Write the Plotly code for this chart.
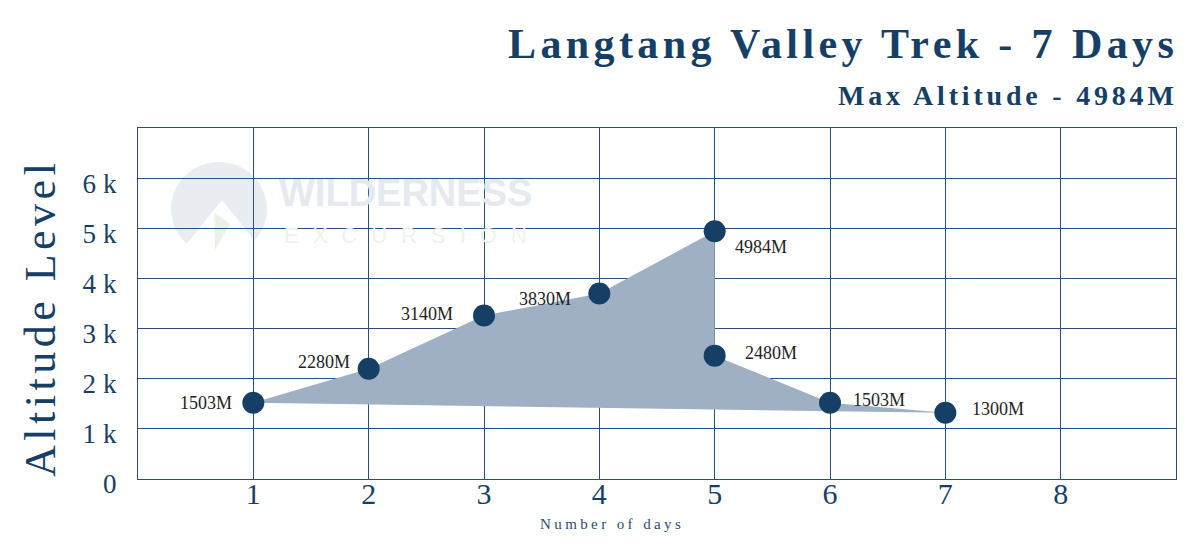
import plotly.graph_objects as go

# ---------------- data ----------------
days = [1, 2, 3, 4, 5, 5, 6, 7]
altitude_plot = [1520, 2200, 3260, 3700, 4940, 2460, 1520, 1320]
altitude_labels = ["1503M", "2280M", "3140M", "3830M", "4984M", "2480M", "1503M", "1300M"]
y_tick_vals = [0, 1000, 2000, 3000, 4000, 5000, 6000]
y_tick_text = ["0", "1k", "2k", "3k", "4k", "5k", "6k"]
x_tick_vals = [1, 2, 3, 4, 5, 6, 7, 8]
x_tick_text = ["1", "2", "3", "4", "5", "6", "7", "8"]

title_text = "Langtang Valley Trek - 7 Days"
subtitle_text = "Max Altitude - 4984M"
y_title = "Altitude Level"
x_title = "Number of days"

# label placement (pixel offsets from each point)
label_dx = [-47, -45, -57, -54, 46, 56, 49, 53]
label_dy = [0, 7, 2, -6, -16, 3, 3, 4]

NAVY = "#163f66"
GRID = "#2a4f78"
SERIF = "Liberation Serif"

# page has an 8px body margin: draw the figure 8px smaller so it ends at the window edge
OFF = 8
W, H = 1200 - OFF, 556 - OFF
# plot area in window pixels
L, R, T, B = 138, 1176, 128, 479


def px(xp):
    return (xp - L) / (R - L)


def py(yp):
    return (B - yp) / (B - T)


fig = go.Figure()

# watermark (behind everything)
fig.add_shape(type="circle", xref="paper", yref="paper", layer="below",
              x0=px(171), x1=px(267), y0=py(256), y1=py(162),
              fillcolor="#e9edf1", line=dict(width=0))
fig.add_shape(type="path", xref="paper", yref="paper", layer="below",
              path="M %f %f L %f %f L %f %f Z" % (px(222), py(200), px(172), py(262), px(272), py(262)),
              fillcolor="white", line=dict(width=0))
fig.add_shape(type="path", xref="paper", yref="paper", layer="below",
              path="M %f %f L %f %f L %f %f Z" % (px(214), py(212), px(230), py(224), px(215), py(250)),
              fillcolor="#eaf2e6", line=dict(width=0))
fig.add_annotation(xref="paper", yref="paper", x=px(405), y=py(193),
                   xanchor="center", yanchor="middle",
                   text="<b>WILDERNESS</b>", showarrow=False,
                   font=dict(family="Liberation Sans", size=38, color="#e6eaef"))
fig.add_annotation(xref="paper", yref="paper", x=px(412), y=py(235),
                   xanchor="center", yanchor="middle",
                   text='<span style="letter-spacing:14px">EXCURSION</span>', showarrow=False,
                   font=dict(family="Liberation Sans", size=22, color="#eef3ec"))

# filled area polygon
fig.add_trace(go.Scatter(
    x=days, y=altitude_plot, mode="lines", fill="toself",
    fillcolor="#9fb0c4", line=dict(width=0, color="#9fb0c4"),
    hoverinfo="skip", showlegend=False,
))
# markers
fig.add_trace(go.Scatter(
    x=days, y=altitude_plot, mode="markers",
    marker=dict(size=22, color=NAVY), showlegend=False,
))

for d, a, lab, dx, dy in zip(days, altitude_plot, altitude_labels, label_dx, label_dy):
    fig.add_annotation(
        x=d, y=a, xref="x", yref="y", text=lab, showarrow=False,
        xanchor="center", yanchor="middle",
        xshift=dx, yshift=dy, font=dict(family=SERIF, size=18, color="#222222"),
    )

# titles
fig.add_annotation(
    x=1.0, y=1.0, xref="paper", yref="paper", xanchor="right", yanchor="bottom",
    yshift=59, xshift=4,
    text='<span style="letter-spacing:4.4px"><b>%s</b></span>' % title_text,
    showarrow=False, font=dict(family=SERIF, size=42, color=NAVY),
)
fig.add_annotation(
    x=1.0, y=1.0, xref="paper", yref="paper", xanchor="right", yanchor="bottom",
    yshift=15, xshift=4,
    text='<span style="letter-spacing:3.8px"><b>%s</b></span>' % subtitle_text,
    showarrow=False, font=dict(family=SERIF, size=28, color=NAVY),
)
# x axis title
fig.add_annotation(
    x=4.11, y=0, xref="x", yref="paper", xanchor="center", yanchor="top", yshift=-35,
    text='<span style="letter-spacing:3.4px">%s</span>' % x_title,
    showarrow=False, font=dict(family=SERIF, size=15, color="#2d4d6e"),
)
# y axis title (rotated)
fig.add_annotation(
    x=px(40), y=py(318), xref="paper", yref="paper", textangle=-90,
    xanchor="center", yanchor="middle",
    text='<span style="letter-spacing:4.5px">%s</span>' % y_title,
    showarrow=False, font=dict(family=SERIF, size=44, color=NAVY),
)

fig.update_layout(
    width=W, height=H,
    margin=dict(l=L - OFF, r=W - (R - OFF), t=T - OFF, b=H - (B - OFF), autoexpand=False),
    paper_bgcolor="white", plot_bgcolor="rgba(0,0,0,0)",
    showlegend=False,
)
fig.update_xaxes(
    range=[0, 9], tickvals=x_tick_vals, ticktext=x_tick_text, automargin=False,
    showgrid=True, gridcolor=GRID, gridwidth=1.3,
    showline=True, linecolor=GRID, linewidth=1.3, mirror=True,
    zeroline=False, ticks="", ticklabelstandoff=-12,
    tickfont=dict(family=SERIF, size=30, color=NAVY),
)
fig.update_yaxes(
    range=[0, 7000], tickvals=y_tick_vals,
    ticktext=['<span style="letter-spacing:7px">%s</span>' % t for t in y_tick_text],
    automargin=False,
    showgrid=True, gridcolor=GRID, gridwidth=1.3,
    showline=True, linecolor=GRID, linewidth=1.3, mirror=True,
    zeroline=False, ticks="", ticklabelstandoff=8, ticklabelshift=5,
    tickfont=dict(family=SERIF, size=27, color=NAVY),
)

fig.write_html("out.html")
